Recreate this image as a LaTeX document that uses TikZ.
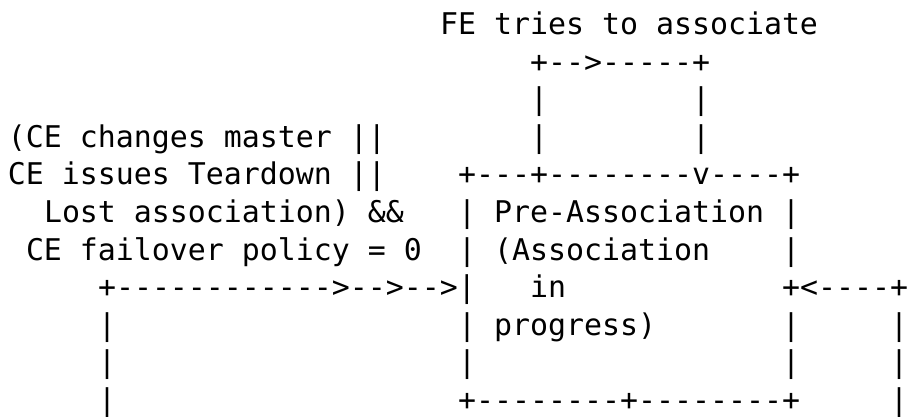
\documentclass[tikz,border=0pt]{standalone}
\usepackage{fontspec}
\setmonofont{DejaVu Sans Mono}
\tikzset{
  seg/.style={inner sep=0pt, outer sep=0pt, anchor=base west,
    font=\ttfamily\fontsize{29.9}{36}\selectfont, text=black}
}
\newcommand\ascseg[4]{\node[seg] (#1) at ({8+18*#2},{34.5+37.6*#3}) {#4};}
\begin{document}
\begin{tikzpicture}[x=1pt,y=-1pt]
\fill[white] (0,0) rectangle (908,417);
\useasboundingbox (0,0) rectangle (908,417);
% row 0
\ascseg{fe}{24}{0}{FE tries to associate}
% row 1
\ascseg{loopTop}{29}{1}{+-->-----+}
% row 2
\ascseg{loopL2}{29}{2}{|}
\ascseg{loopR2}{38}{2}{|}
% row 3
\ascseg{cond1}{0}{3}{(CE changes master ||}
\ascseg{loopL3}{29}{3}{|}
\ascseg{loopR3}{38}{3}{|}
% row 4
\ascseg{cond2}{0}{4}{CE issues Teardown ||}
\ascseg{boxTop}{25}{4}{+---+--------v----+}
% row 5
\ascseg{cond3}{2}{5}{Lost association) \&\&}
\ascseg{boxL5}{25}{5}{|}
\ascseg{title}{27}{5}{Pre-Association}
\ascseg{boxR5}{43}{5}{|}
% row 6
\ascseg{cond4}{1}{6}{CE failover policy = 0}
\ascseg{boxL6}{25}{6}{|}
\ascseg{sub1}{27}{6}{(Association}
\ascseg{boxR6}{43}{6}{|}
% row 7
\ascseg{inArrow}{5}{7}{+------------>-->-->|}
\ascseg{sub2}{29}{7}{in}
\ascseg{retArrow}{43}{7}{+<----+}
% row 8
\ascseg{leftV8}{5}{8}{|}
\ascseg{boxL8}{25}{8}{|}
\ascseg{sub3}{27}{8}{progress)}
\ascseg{boxR8}{43}{8}{|}
\ascseg{rightV8}{49}{8}{|}
% row 9
\ascseg{leftV9}{5}{9}{|}
\ascseg{boxL9}{25}{9}{|}
\ascseg{boxR9}{43}{9}{|}
\ascseg{rightV9}{49}{9}{|}
% row 10
\ascseg{leftV10}{5}{10}{|}
\ascseg{boxBot}{25}{10}{+--------+--------+}
\ascseg{rightV10}{49}{10}{|}
\end{tikzpicture}
\end{document}
